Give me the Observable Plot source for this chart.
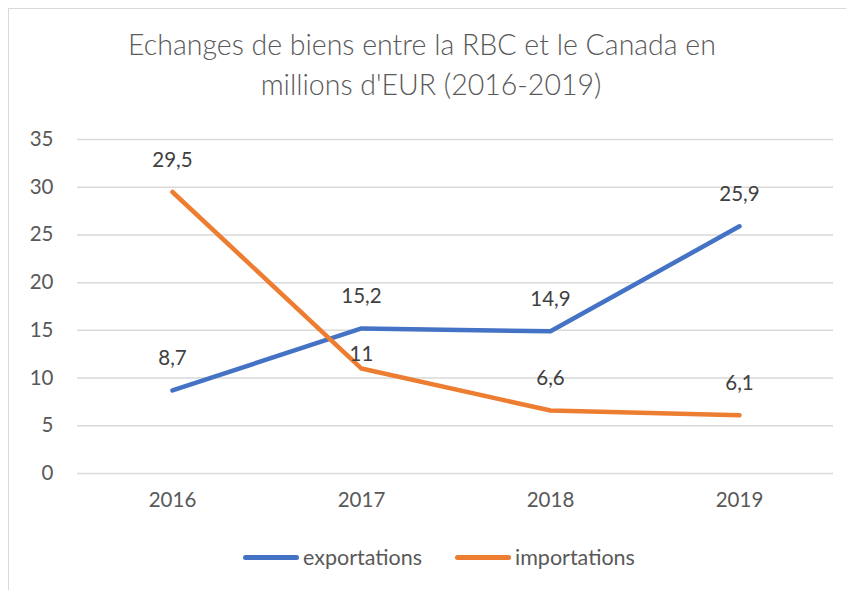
<!DOCTYPE html>
<html>
<head>
<meta charset="utf-8">
<script src="https://cdn.jsdelivr.net/npm/d3@7"></script>
<script src="https://cdn.jsdelivr.net/npm/@observablehq/plot@0.6"></script>
<style>
  html, body { margin: 0; padding: 0; background: #fff; }
  body { width: 846px; height: 590px; position: relative; overflow: hidden; font-family: Lato, "Open Sans", sans-serif; }
  #frame { position: absolute; left: 8px; top: 8px; width: 850px; height: 600px; border: 1px solid #d9d9d9; box-sizing: border-box; }
  #title { position: absolute; left: 0; width: 846px; top: 24px; text-align: center; font-size: 28.5px; font-weight: 300; color: #595959; line-height: 40px; }
  #title .l1 { margin-left: -2px; }
  #title .l2 { margin-left: 16px; }
  #chart { position: absolute; left: 0; top: 120px; }
  #legend { position: absolute; top: 545px; left: 0; width: 846px; height: 24px; font-size: 21.5px; color: #595959; }
  .item { position: absolute; top: 0; display: flex; align-items: center; height: 24px; }
  .swatch { width: 56px; height: 5px; border-radius: 3px; margin-right: 4px; }
</style>
</head>
<body>
<div id="frame"></div>
<div id="title"><div class="l1">Echanges de biens entre la RBC et le Canada en</div><div class="l2">millions d'EUR (2016-2019)</div></div>
<div id="chart"></div>
<div id="legend"></div>
<script>
const years = ["2016", "2017", "2018", "2019"];
const exportations = [8.7, 15.2, 14.9, 25.9];
const importations = [29.5, 11, 6.6, 6.1];
const seriesNames = ["exportations", "importations"];
const seriesColors = ["#4472C4", "#ED7D31"];
const yTicks = [0, 5, 10, 15, 20, 25, 30, 35];

const rows = [];
years.forEach((y, i) => {
  rows.push({year: y, value: exportations[i], series: seriesNames[0]});
  rows.push({year: y, value: importations[i], series: seriesNames[1]});
});
const fmt = v => String(v).replace(".", ",");
const crowded = d => d.series === "importations" && d.year === "2017";

const chart = Plot.plot({
  width: 846,
  height: 400,
  marginLeft: 77,
  marginRight: 13,
  marginTop: 19,
  marginBottom: 47,
  style: {fontFamily: "Lato, 'Open Sans', sans-serif", fontSize: "20.5px", color: "#595959", background: "transparent"},
  x: {type: "point", domain: years, padding: 0.5, label: null},
  y: {domain: [0, 35], ticks: yTicks, label: null},
  color: {domain: seriesNames, range: seriesColors},
  marks: [
    Plot.gridY(yTicks, {stroke: "#d9d9d9", strokeOpacity: 1, strokeWidth: 1.5}),
    Plot.axisY(yTicks, {tickSize: 0, tickPadding: 24, label: null, fill: "#595959", fontSize: 20.5}),
    Plot.axisX({tickSize: 0, tickPadding: 19, label: null, fill: "#595959", fontSize: 20.5}),
    Plot.line(rows, {x: "year", y: "value", z: "series", stroke: "series", strokeWidth: 4.5, strokeLinecap: "round", strokeLinejoin: "round"}),
    Plot.text(rows.filter(d => !crowded(d)), {x: "year", y: "value", text: d => fmt(d.value), dy: -32, fill: "#404040", fontSize: 20.5}),
    Plot.text(rows.filter(crowded), {x: "year", y: "value", text: d => fmt(d.value), dy: -14, fill: "#404040", fontSize: 20.5})
  ]
});
document.getElementById("chart").appendChild(chart);

const legend = document.getElementById("legend");
const lefts = [243, 455];
seriesNames.forEach((name, i) => {
  const item = document.createElement("div");
  item.className = "item";
  item.style.left = lefts[i] + "px";
  const sw = document.createElement("span");
  sw.className = "swatch";
  sw.style.background = seriesColors[i];
  const t = document.createElement("span");
  t.textContent = name;
  item.appendChild(sw);
  item.appendChild(t);
  legend.appendChild(item);
});
</script>
</body>
</html>
